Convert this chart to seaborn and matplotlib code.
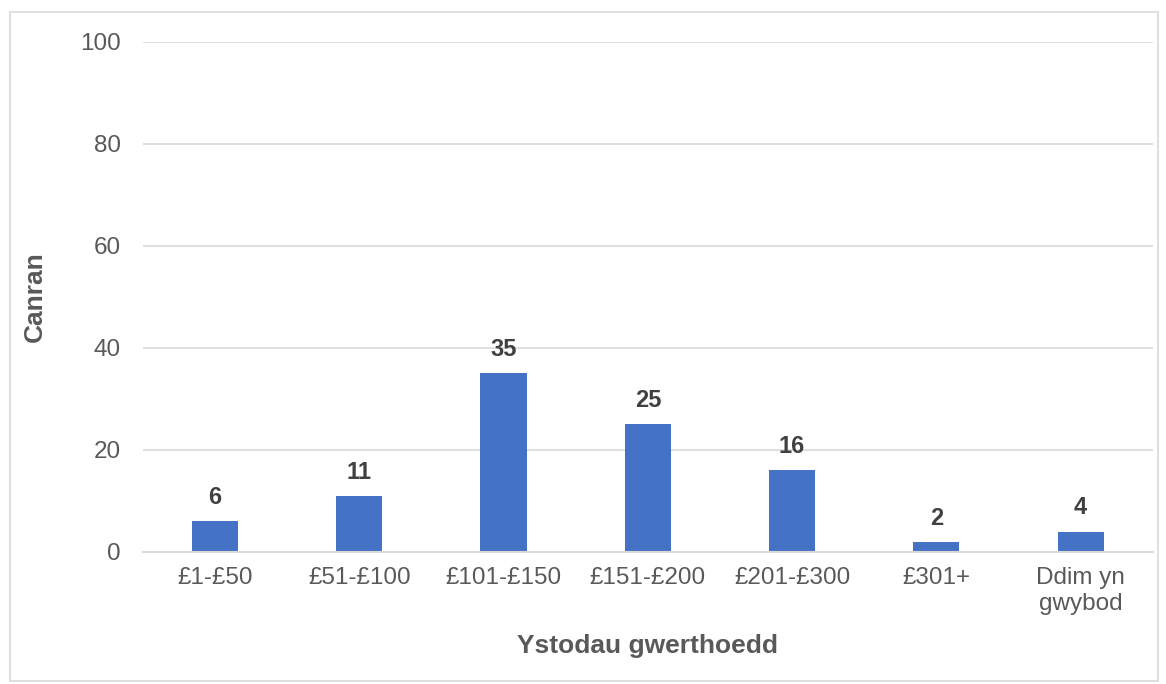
import numpy as np
import pandas as pd
import seaborn as sns
import matplotlib.pyplot as plt
from matplotlib.patches import Rectangle

# data
categories = ['£1-£50', '£51-£100', '£101-£150', '£151-£200', '£201-£300', '£301+', 'Ddim yn\ngwybod']
values = [6, 11, 35, 25, 16, 2, 4]
yticks = [0, 20, 40, 60, 80, 100]

df = pd.DataFrame({'Ystod': categories, 'Canran': values})

sns.set_theme(style='white')
plt.rcParams['font.family'] = ['Liberation Sans', 'DejaVu Sans']

text_col = '#595959'
grid_col = '#D9D9D9'

fig = plt.figure(figsize=(11.66, 6.84), dpi=100)
ax = fig.add_axes([0.1226, 0.193, 0.866, 0.7456])

sns.barplot(data=df, x='Ystod', y='Canran', color='#4472C4', width=0.32,
            saturation=1, linewidth=0, ax=ax)

# value labels above the bars
for i, v in enumerate(values):
    ax.text(i, v + 2.4, str(v), ha='center', va='bottom', fontsize=17,
            fontweight='bold', color='#404040')

ax.set_ylim(0, 100)
ax.set_xlim(-0.5, len(categories) - 0.5)
ax.set_yticks(yticks)
ax.yaxis.grid(True, color=grid_col, linewidth=1.2)
ax.set_axisbelow(True)

for s in ['top', 'right', 'left']:
    ax.spines[s].set_visible(False)
ax.spines['bottom'].set_color(grid_col)
ax.spines['bottom'].set_linewidth(1.5)

ax.tick_params(axis='y', length=0, pad=16, labelsize=17.5, labelcolor=text_col)
ax.tick_params(axis='x', which='major', length=0, pad=11, labelsize=17.5,
               labelcolor=text_col)
ax.set_xticks(np.arange(-0.5, len(categories)), minor=True)
ax.tick_params(axis='x', which='minor', length=7, width=1.5, color=grid_col)

ax.set_xlabel('Ystodau gwerthoedd', fontsize=19, fontweight='bold',
              color=text_col, labelpad=14)
ax.set_ylabel('Canran', fontsize=19, fontweight='bold', color=text_col,
              labelpad=24)

# light frame round the chart
fig.patches.append(Rectangle((10 / 1166, 0.005), 1148 / 1166, 0.977,
                             transform=fig.transFigure, fill=False,
                             edgecolor=grid_col, linewidth=1.2))

fig.savefig('out.png', dpi=100)
